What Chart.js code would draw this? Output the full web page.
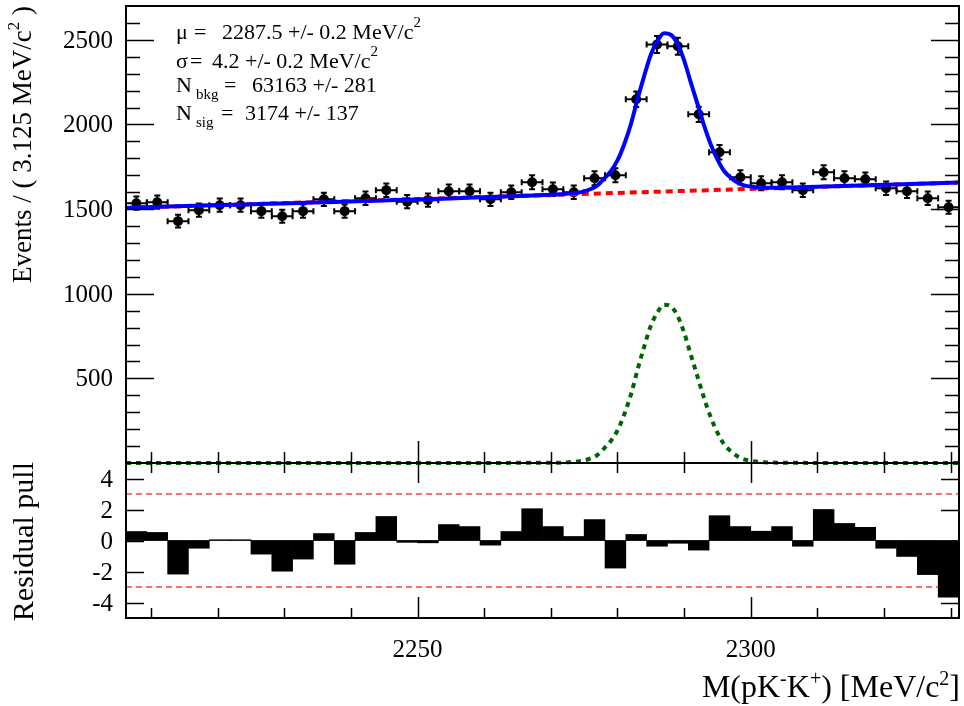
<!DOCTYPE html>
<html>
<head>
<meta charset="utf-8">
<script src="https://cdn.jsdelivr.net/npm/chart.js@4.4.0/dist/chart.umd.min.js"></script>
<style>
  html, body { margin: 0; padding: 0; background: #fff; }
  #wrap { position: relative; width: 964px; height: 706px; }
</style>
</head>
<body>
<div id="wrap"><canvas id="plot" width="964" height="706"></canvas></div>
<script>
// mass range and binning (40 bins of 3.125 MeV)
const xMin = 2206.25, xMax = 2331.25;
const binHalfWidth = 1.5625;

const binCenters = [2207.81, 2210.94, 2214.06, 2217.19, 2220.31, 2223.44, 2226.56, 2229.69, 2232.81, 2235.94,
                    2239.06, 2242.19, 2245.31, 2248.44, 2251.56, 2254.69, 2257.81, 2260.94, 2264.06, 2267.19,
                    2270.31, 2273.44, 2276.56, 2279.69, 2282.81, 2285.94, 2289.06, 2292.19, 2295.31, 2298.44,
                    2301.56, 2304.69, 2307.81, 2310.94, 2314.06, 2317.19, 2320.31, 2323.44, 2326.56, 2329.69];

const eventCounts = [1535, 1541, 1429, 1494, 1523, 1523, 1488, 1458, 1488, 1558,
                     1488, 1564, 1612, 1544, 1553, 1606, 1606, 1558, 1600, 1659,
                     1617, 1600, 1682, 1700, 2149, 2473, 2462, 2060, 1836, 1688,
                     1653, 1659, 1612, 1718, 1682, 1676, 1623, 1606, 1564, 1511];

const eventErrors = [39, 39, 38, 39, 39, 39, 39, 38, 39, 39,
                     39, 40, 40, 39, 39, 40, 40, 39, 40, 41,
                     40, 40, 41, 41, 46, 50, 50, 45, 43, 41,
                     41, 41, 40, 41, 41, 41, 40, 40, 40, 39];

const pulls = [0.58, 0.52, -2.17, -0.50, 0.05, 0.05, -0.88, -1.98, -1.20, 0.45,
               -1.53, 0.52, 1.55, -0.12, -0.15, 1.03, 0.90, -0.30, 0.58, 2.05,
               0.90, 0.26, 1.35, -1.78, 0.39, -0.37, -0.18, -0.62, 1.60, 0.90,
               0.60, 0.90, -0.37, 2.00, 1.10, 0.85, -0.50, -1.03, -2.20, -3.65];

// fit curves
const curveX = [2206.25, 2270, 2272, 2273, 2274, 2275, 2276, 2277, 2278, 2279, 2280, 2281, 2282, 2283, 2284,
                2285, 2286, 2287, 2288, 2289, 2290, 2291, 2292, 2293, 2294, 2295, 2296, 2297, 2298, 2299,
                2300, 2301, 2302, 2304, 2306, 2331.25];
const signalY = [0, 1, 3, 6, 9, 15, 28, 48, 87, 130, 192, 285, 402, 549, 686,
                 810, 890, 935, 925, 871, 771, 640, 512, 382, 270, 180, 110, 70, 40, 22,
                 13, 7, 4, 2, 1, 0];
const totalY = [1507, 1585, 1589, 1593, 1597, 1605, 1619, 1640, 1680, 1724, 1788, 1882, 2000, 2148, 2286,
                2412, 2493, 2539, 2530, 2477, 2379, 2249, 2122, 1993, 1882, 1794, 1725, 1686, 1657, 1640,
                1633, 1628, 1626, 1626, 1628, 1657];
const bkgX = [2206.25, 2331.25];
const bkgY = [1507, 1657];

const pullLimit = 3;

// axis ticks
const yLabels = [500, 1000, 1500, 2000, 2500];
const pullLabels = [4, 2, 0, -2, -4];
const xLabels = [2250, 2300];

const fitText = [
  {name: "\u03bc", sub: "", value: "2287.5 +/- 0.2 MeV/c", sup: "2"},
  {name: "\u03c3", sub: "", value: "4.2 +/- 0.2 MeV/c", sup: "2"},
  {name: "N", sub: "bkg", value: "63163 +/- 281", sup: ""},
  {name: "N", sub: "sig", value: "3174 +/- 137", sup: ""}
];

const SERIF = '"Liberation Serif", "Times New Roman", serif';

function richText(ctx, parts, x, y, align) {
  // parts: [text, size, dy]
  let w = 0;
  parts.forEach(p => { ctx.font = p[1] + 'px ' + SERIF; w += ctx.measureText(p[0]).width; });
  let cx = align === 'right' ? x - w : x;
  parts.forEach(p => {
    ctx.font = p[1] + 'px ' + SERIF;
    ctx.fillText(p[0], cx, y + (p[2] || 0));
    cx += ctx.measureText(p[0]).width;
  });
  return w;
}

const rootStyle = {
  id: 'rootStyle',
  beforeDatasetsDraw(chart) {
    const {ctx} = chart;
    const x = chart.scales.x, y = chart.scales.y;
    ctx.save();
    ctx.strokeStyle = '#000';
    ctx.lineWidth = 2;
    const cap = 3;
    for (let i = 0; i < binCenters.length; i++) {
      const px = x.getPixelForValue(binCenters[i]);
      const py = y.getPixelForValue(eventCounts[i]);
      const xl = x.getPixelForValue(binCenters[i] - binHalfWidth);
      const xr = x.getPixelForValue(binCenters[i] + binHalfWidth);
      const yt = y.getPixelForValue(eventCounts[i] + eventErrors[i]);
      const yb = y.getPixelForValue(eventCounts[i] - eventErrors[i]);
      ctx.beginPath();
      ctx.moveTo(xl, py); ctx.lineTo(xr, py);
      ctx.moveTo(px, yt); ctx.lineTo(px, yb);
      ctx.moveTo(xl, py - cap); ctx.lineTo(xl, py + cap);
      ctx.moveTo(xr, py - cap); ctx.lineTo(xr, py + cap);
      ctx.moveTo(px - cap, yt); ctx.lineTo(px + cap, yt);
      ctx.moveTo(px - cap, yb); ctx.lineTo(px + cap, yb);
      ctx.stroke();
    }
    ctx.restore();
  },
  afterDraw(chart) {
    const {ctx} = chart;
    const x = chart.scales.x, y = chart.scales.y, yp = chart.scales.yp;
    const L = x.left, R = x.right;
    const T = y.top, M = y.bottom, B = yp.bottom;
    ctx.save();
    ctx.strokeStyle = '#000';
    ctx.fillStyle = '#000';

    // frame + panel divider
    ctx.lineWidth = 2;
    ctx.strokeRect(L, T, R - L, B - T);
    ctx.beginPath(); ctx.moveTo(L, M); ctx.lineTo(R, M); ctx.stroke();

    ctx.lineWidth = 1.5;
    ctx.beginPath();
    // top panel y ticks, every 100, major every 500
    for (let v = 100; v < 2700; v += 100) {
      const py = Math.round(y.getPixelForValue(v)) + 0.5;
      const len = v % 500 === 0 ? 28 : 14;
      ctx.moveTo(L, py); ctx.lineTo(L + len, py);
      ctx.moveTo(R, py); ctx.lineTo(R - len, py);
    }
    // pull panel y ticks
    pullLabels.forEach(v => {
      const py = Math.round(yp.getPixelForValue(v)) + 0.5;
      ctx.moveTo(L, py); ctx.lineTo(L + 18, py);
      ctx.moveTo(R, py); ctx.lineTo(R - 18, py);
    });
    // x ticks, every 10, major every 50
    for (let v = 2210; v <= 2330; v += 10) {
      const px = Math.round(x.getPixelForValue(v)) + 0.5;
      const major = v % 50 === 0;
      ctx.moveTo(px, M); ctx.lineTo(px, M - (major ? 22 : 11));
      ctx.moveTo(px, M); ctx.lineTo(px, M + (major ? 20 : 10));
      ctx.moveTo(px, B); ctx.lineTo(px, B - (major ? 21 : 10));
    }
    ctx.stroke();

    // tick labels
    ctx.textBaseline = 'alphabetic';
    ctx.textAlign = 'right';
    ctx.font = '25px ' + SERIF;
    yLabels.forEach(v => ctx.fillText(String(v), 113, y.getPixelForValue(v) + 8));
    pullLabels.forEach(v => ctx.fillText(String(v), 113, yp.getPixelForValue(v) + 8));
    ctx.textAlign = 'center';
    xLabels.forEach(v => ctx.fillText(String(v), x.getPixelForValue(v), 657));

    // axis titles
    ctx.textAlign = 'left';
    richText(ctx, [["M(pK", 32], ["-", 20, -12], ["K", 32], ["+", 20, -12], [") [MeV/c", 32], ["2", 20, -12], ["]", 32]], 960, 697, 'right');

    ctx.save();
    ctx.translate(31, T);
    ctx.rotate(-Math.PI / 2);
    richText(ctx, [["Events / ( 3.125 MeV/c", 27], ["2", 17, -12], [" )", 27]], 0, 0, 'right');
    ctx.restore();

    ctx.save();
    ctx.translate(33, M - 1);
    ctx.rotate(-Math.PI / 2);
    richText(ctx, [["Residual pull", 30]], 0, 0, 'right');
    ctx.restore();

    // fit results box
    const base = [39, 68, 92, 120];
    const valX = [222, 212, 252, 245];
    const eqX = [194, 190, 224, 221];
    fitText.forEach((r, i) => {
      ctx.font = '22px ' + SERIF;
      ctx.fillText(r.name, 176, base[i]);
      if (r.sub) { ctx.font = '15px ' + SERIF; ctx.fillText(r.sub, 196, base[i] + 7); }
      ctx.font = '22px ' + SERIF;
      ctx.fillText("=", eqX[i], base[i]);
      const parts = [[r.value, 22]];
      if (r.sup) parts.push([r.sup, 15, -12]);
      richText(ctx, parts, valX[i], base[i]);
    });
    ctx.restore();
  }
};

const hidden = {grid: {display: false}, border: {display: false}, ticks: {display: false}};

new Chart(document.getElementById('plot'), {
  type: 'scatter',
  data: {
    datasets: [
      {
        type: 'line', label: 'total fit', yAxisID: 'y', order: 0,
        data: curveX.map((v, i) => ({x: v, y: totalY[i]})),
        borderColor: '#0000ff', borderWidth: 4, pointRadius: 0, fill: false,
        cubicInterpolationMode: 'monotone'
      },
      {
        type: 'line', label: 'signal', yAxisID: 'y', order: 1, clip: false,
        data: curveX.map((v, i) => ({x: v, y: signalY[i]})),
        borderColor: '#006400', borderWidth: 4, borderDash: [5, 5], pointRadius: 0, fill: false,
        cubicInterpolationMode: 'monotone'
      },
      {
        type: 'line', label: 'background', yAxisID: 'y', order: 2,
        data: bkgX.map((v, i) => ({x: v, y: bkgY[i]})),
        borderColor: '#ff0000', borderWidth: 4, borderDash: [7, 5], pointRadius: 0, fill: false
      },
      {
        type: 'scatter', label: 'data', yAxisID: 'y', order: 3,
        data: binCenters.map((v, i) => ({x: v, y: eventCounts[i]})),
        pointRadius: 5, pointBackgroundColor: '#000', pointBorderWidth: 0
      },
      {
        type: 'bar', label: 'pull', yAxisID: 'yp', order: 4,
        data: binCenters.map((v, i) => ({x: v, y: pulls[i]})),
        backgroundColor: '#000', borderColor: '#000', borderWidth: 0,
        barPercentage: 1, categoryPercentage: 1
      },
      {
        type: 'line', label: '+3', yAxisID: 'yp', order: 5,
        data: bkgX.map(v => ({x: v, y: pullLimit})),
        borderColor: '#ff4040', borderWidth: 1.5, borderDash: [6, 4], pointRadius: 0
      },
      {
        type: 'line', label: '-3', yAxisID: 'yp', order: 5,
        data: bkgX.map(v => ({x: v, y: -pullLimit})),
        borderColor: '#ff4040', borderWidth: 1.5, borderDash: [6, 4], pointRadius: 0
      },
      {
        type: 'line', label: 'zero', yAxisID: 'yp', order: 6,
        data: bkgX.map(v => ({x: v, y: 0})),
        borderColor: '#999', borderWidth: 1, pointRadius: 0
      }
    ]
  },
  options: {
    responsive: false,
    animation: false,
    events: [],
    layout: {padding: {left: 0, right: 4, top: 6, bottom: 0}},
    plugins: {legend: {display: false}, tooltip: {enabled: false}},
    scales: {
      x: Object.assign({type: 'linear', min: xMin, max: xMax, offset: false,
        afterFit(s) { s.height = 88; }}, hidden),
      yp: Object.assign({type: 'linear', min: -5, max: 5, stack: 'panels', stackWeight: 155, position: 'left',
        afterFit(s) { s.width = 126; }}, hidden),
      y: Object.assign({type: 'linear', min: 0, max: 2700, stack: 'panels', stackWeight: 457, position: 'left',
        afterFit(s) { s.width = 126; }}, hidden)
    }
  },
  plugins: [rootStyle]
});
</script>
</body>
</html>
